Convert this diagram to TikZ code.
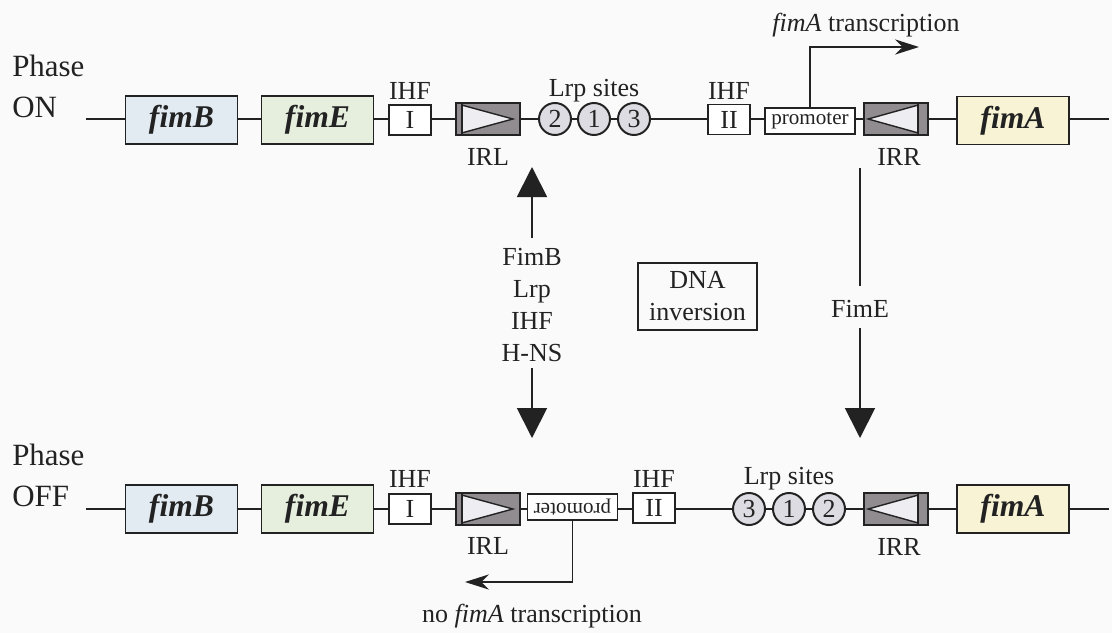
\documentclass[tikz,border=0pt]{standalone}
\usepackage{fontspec}
\setmainfont{Liberation Serif}
\usetikzlibrary{arrows.meta,calc,positioning}

\definecolor{ink}{HTML}{222222}
\definecolor{bgcol}{HTML}{FAFAFB}
\definecolor{fimbfill}{HTML}{E2EBF2}
\definecolor{fimefill}{HTML}{E6EEDD}
\definecolor{fimafill}{HTML}{F7F3D4}
\definecolor{irgray}{HTML}{918C90}
\definecolor{irlight}{HTML}{EEEEF2}
\definecolor{sitefill}{HTML}{DCDCE2}

\newcommand{\labfont}{\fontsize{18.5}{22.8}\selectfont}
\newcommand{\genefont}{\fontsize{22.5}{26}\selectfont\bfseries\itshape}
\newcommand{\phasefont}{\fontsize{22}{26}\selectfont}
\newcommand{\promfont}{\fontsize{15}{18}\selectfont}

\begin{document}
\begin{tikzpicture}[
    x=0.025cm,
    y=-0.025cm,
    every node/.style={text=ink},
    gene/.style={draw=ink, line width=1.2pt, minimum width=2.8cm, minimum height=1.2cm, inner sep=0pt, font=\genefont},
    ihf/.style={draw=ink, fill=white, line width=1.2pt, minimum width=1.05cm, minimum height=0.75cm, inner sep=0pt, font=\labfont},
    irbox/.style={draw=ink, fill=irgray, line width=1.2pt, minimum width=1.6cm, minimum height=0.8cm, inner sep=0pt},
    site/.style={circle, draw=ink, fill=sitefill, line width=1.4pt, minimum size=0.8cm, inner sep=0pt, font=\labfont},
    prom/.style={draw=ink, fill=white, line width=1.2pt, minimum width=2.25cm, minimum height=0.65cm, inner sep=0pt, font=\promfont},
    lab/.style={inner sep=0pt, font=\labfont},
    phase/.style={inner sep=0pt, font=\phasefont, anchor=base west},
    dna/.style={draw=ink, line width=1.5pt},
    irtri/.style={draw=ink, fill=irlight, line width=1pt},
    irsep/.style={draw=ink, line width=1pt},
    invarrow/.style={draw=ink, line width=1.3pt, -{Triangle[length=0.75cm, width=0.75cm]}},
    txarrow/.style={draw=ink, line width=1.3pt, -{Stealth[length=0.6cm, width=0.38cm]}}
]
\useasboundingbox (0,0) rectangle (1112,633);
\fill[bgcol] (0,0) rectangle (1112,633);

% phase ON
\node[phase] (phaseon) at (12,76) {Phase};
\node[phase] (onlab) at (12,117) {ON};
\coordinate (onL) at (86,119);
\coordinate (onR) at (1109,119);
\draw[dna] (onL) -- (onR);

\node[gene, fill=fimbfill] (fimbon) at (181.5,120) {fimB};
\node[gene, fill=fimefill] (fimeon) at (317.5,120) {fimE};
\node[ihf] (ihf1on) at (410,120) {I};
\node[lab] (ihf1laon) at (410,91) {IHF};
\node[irbox] (irlon) at (488,119) {};
\draw[irtri] ($(irlon.north west)+(7,3)$) -- ($(irlon.south west)+(7,-3)$) -- ($(irlon.east)+(-8,0)$) -- cycle;
\draw[irsep] ($(irlon.north west)+(7,0)$) -- ($(irlon.south west)+(7,0)$);
\node[lab] (irllaon) at (488,157) {IRL};
\node[site] (s2on) at (555,119) {2};
\node[site] (s1on) at (594,119) {1};
\node[site] (s3on) at (634,119) {3};
\node[lab] (lrpon) at (594,91) {Lrp sites};
\node[ihf] (ihf2on) at (729,119.5) {II};
\node[lab] (ihf2laon) at (729,91) {IHF};
\node[prom] (promon) at (810,121) {promoter};
\node[irbox] (irron) at (896,119) {};
\draw[irtri] ($(irron.north east)+(-11,3)$) -- ($(irron.south east)+(-11,-3)$) -- ($(irron.west)+(5,0)$) -- cycle;
\draw[irsep] ($(irron.north east)+(-11,0)$) -- ($(irron.south east)+(-11,0)$);
\node[lab] (irrlaon) at (899,157) {IRR};
\node[gene, fill=fimafill] (fimaon) at (1013,120.5) {fimA};

\coordinate (txon) at (919,47);
\draw[txarrow] (promon.north) |- (txon);
\node[lab] (txlaon) at (866,25) {\textit{fimA} transcription};

% inversion
\coordinate (upTip) at (532,167);
\coordinate (dnTip) at (532,438);
\node[lab, align=center, anchor=north] (regl) at (532,248) {FimB\\Lrp\\IHF\\H-NS};
\draw[invarrow, shorten <=0.25cm] (regl) -- (upTip);
\draw[invarrow, shorten <=0.15cm] (regl) -- (dnTip);

\node[draw=ink, line width=1.2pt, lab, align=center, minimum width=2.975cm, minimum height=1.675cm] (inv) at (697.5,296.5) {DNA\\inversion};

\coordinate (feTop) at (860,168);
\coordinate (feTip) at (860,438);
\node[lab] (fimelab) at (860,309) {FimE};
\draw[draw=ink, line width=1.3pt, shorten >=0.35cm] (feTop) -- (fimelab);
\draw[invarrow, shorten <=0.25cm] (fimelab) -- (feTip);

% phase OFF
\node[phase] (phaseoff) at (12,465) {Phase};
\node[phase] (offlab) at (12,506) {OFF};
\coordinate (offL) at (86,509);
\coordinate (offR) at (1109,509);
\draw[dna] (offL) -- (offR);

\node[gene, fill=fimbfill] (fimboff) at (181.5,509) {fimB};
\node[gene, fill=fimefill] (fimeoff) at (317.5,509) {fimE};
\node[ihf] (ihf1off) at (410,509) {I};
\node[lab] (ihf1laoff) at (410,479) {IHF};
\node[irbox] (irloff) at (488,509) {};
\draw[irtri] ($(irloff.north west)+(7,3)$) -- ($(irloff.south west)+(7,-3)$) -- ($(irloff.east)+(-8,0)$) -- cycle;
\draw[irsep] ($(irloff.north west)+(7,0)$) -- ($(irloff.south west)+(7,0)$);
\node[lab] (irllaoff) at (488,546) {IRL};
\node[prom, rotate=180] (promoff) at (572.5,507) {promoter};
\node[ihf] (ihf2off) at (654,508) {II};
\node[lab] (ihf2laoff) at (654,479) {IHF};
\node[site] (s3off) at (749,509) {3};
\node[site] (s1off) at (789,509) {1};
\node[site] (s2off) at (829,509) {2};
\node[lab] (lrpoff) at (789,479) {Lrp sites};
\node[irbox] (irroff) at (896,509) {};
\draw[irtri] ($(irroff.north east)+(-11,3)$) -- ($(irroff.south east)+(-11,-3)$) -- ($(irroff.west)+(5,0)$) -- cycle;
\draw[irsep] ($(irroff.north east)+(-11,0)$) -- ($(irroff.south east)+(-11,0)$);
\node[lab] (irrlaoff) at (899,547) {IRR};
\node[gene, fill=fimafill] (fimaoff) at (1013,509) {fimA};

% promoter is turned, so its north is at the bottom
\coordinate (notx) at (465,582);
\draw[txarrow] (promoff.north) |- (notx);
\node[lab] (notxla) at (532,616) {no \textit{fimA} transcription};
\end{tikzpicture}
\end{document}
